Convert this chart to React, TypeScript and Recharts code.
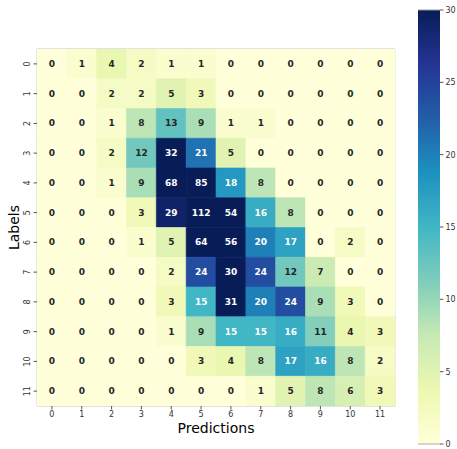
import React from "react";
import { BarChart, Bar, XAxis, YAxis, Cell, LabelList, ReferenceArea, ReferenceLine } from "recharts";

// confusion matrix, rows = true labels, columns = predictions
const predLabels = ["0", "1", "2", "3", "4", "5", "6", "7", "8", "9", "10", "11"];
const trueLabels = ["0", "1", "2", "3", "4", "5", "6", "7", "8", "9", "10", "11"];

const row0 = [0, 1, 4, 2, 1, 1, 0, 0, 0, 0, 0, 0];
const row1 = [0, 0, 2, 2, 5, 3, 0, 0, 0, 0, 0, 0];
const row2 = [0, 0, 1, 8, 13, 9, 1, 1, 0, 0, 0, 0];
const row3 = [0, 0, 2, 12, 32, 21, 5, 0, 0, 0, 0, 0];
const row4 = [0, 0, 1, 9, 68, 85, 18, 8, 0, 0, 0, 0];
const row5 = [0, 0, 0, 3, 29, 112, 54, 16, 8, 0, 0, 0];
const row6 = [0, 0, 0, 1, 5, 64, 56, 20, 17, 0, 2, 0];
const row7 = [0, 0, 0, 0, 2, 24, 30, 24, 12, 7, 0, 0];
const row8 = [0, 0, 0, 0, 3, 15, 31, 20, 24, 9, 3, 0];
const row9 = [0, 0, 0, 0, 1, 9, 15, 15, 16, 11, 4, 3];
const row10 = [0, 0, 0, 0, 0, 3, 4, 8, 17, 16, 8, 2];
const row11 = [0, 0, 0, 0, 0, 0, 0, 1, 5, 8, 6, 3];
const matrix = [row0, row1, row2, row3, row4, row5, row6, row7, row8, row9, row10, row11];

const colorbarTicks = [0, 5, 10, 15, 20, 25, 30];
const VMAX = 30;

// matplotlib YlGnBu
const YLGNBU = ["#ffffd9", "#edf8b1", "#c7e9b4", "#7fcdbb", "#41b6c4", "#1d91c0", "#225ea8", "#253494", "#081d58"];

const hexToRgb = (h: string) => [1, 3, 5].map((i) => parseInt(h.slice(i, i + 2), 16));

const cmapRgb = (v: number) => {
  const t = Math.max(0, Math.min(1, v / VMAX)) * (YLGNBU.length - 1);
  const i = Math.min(Math.floor(t), YLGNBU.length - 2);
  const f = t - i;
  const a = hexToRgb(YLGNBU[i]);
  const b = hexToRgb(YLGNBU[i + 1]);
  return a.map((c, k) => Math.round(c + (b[k] - c) * f));
};

const cmap = (v: number) => {
  const [r, g, b] = cmapRgb(v);
  return `rgb(${r},${g},${b})`;
};

// seaborn picks annotation colour from the cell luminance
const textColor = (v: number) => {
  const lin = cmapRgb(v).map((c) => {
    const s = c / 255;
    return s <= 0.03928 ? s / 12.92 : Math.pow((s + 0.055) / 1.055, 2.4);
  });
  const lum = 0.2126 * lin[0] + 0.7152 * lin[1] + 0.0722 * lin[2];
  return lum > 0.408 ? "#262626" : "#ffffff";
};

const data = predLabels.map((p, i) => {
  const o: Record<string, any> = { pred: p };
  matrix.forEach((row, j) => {
    o[`c${j}`] = row[i];
    o[`h${j}`] = 1;
  });
  return o;
});

const yTicks = trueLabels.map((_, j) => j + 0.5);

const CellLabel = (props: any) => {
  const { x, y, width, height, value } = props;
  return (
    <text
      x={x + width / 2}
      y={y + height / 2}
      textAnchor="middle"
      dominantBaseline="central"
      fontSize={9}
      fontWeight="bold"
      fill={textColor(value)}
    >
      {value}
    </text>
  );
};

const YTick = (props: any) => {
  const { x, y, payload } = props;
  return (
    <text
      x={x}
      y={y}
      transform={`rotate(-90 ${x} ${y})`}
      textAnchor="middle"
      dominantBaseline="central"
      fontSize={8}
      fill="#333"
    >
      {trueLabels[Math.floor(payload.value)]}
    </text>
  );
};

const XTitle = (props: any) => {
  const vb = props.viewBox || { x: 37, y: 406, width: 358 };
  return (
    <text x={vb.x + vb.width / 2} y={vb.y + 27} textAnchor="middle" fontSize={14} fill="#000">
      Predictions
    </text>
  );
};

const YTitle = (props: any) => {
  const vb = props.viewBox || { x: 0, y: 49, height: 357 };
  const cx = vb.x + 14;
  const cy = vb.y + vb.height / 2;
  return (
    <text
      x={cx}
      y={cy}
      transform={`rotate(-90 ${cx} ${cy})`}
      textAnchor="middle"
      dominantBaseline="central"
      fontSize={14}
      fill="#000"
    >
      Labels
    </text>
  );
};

export default function App() {
  return (
    <div
      style={{
        position: "absolute",
        left: 0,
        top: 0,
        width: 457,
        height: 449,
        background: "#fff",
        fontFamily: "DejaVu Sans",
      }}
    >
      <BarChart
        width={457}
        height={449}
        data={data}
        margin={{ top: 49, right: 62, bottom: 0, left: 0 }}
        barCategoryGap={0}
        barGap={0}
      >
        <XAxis
          dataKey="pred"
          type="category"
          height={43}
          interval={0}
          axisLine={false}
          tickSize={3.5}
          tickMargin={2}
          tick={{ fontSize: 8, fill: "#333" }}
          tickLine={{ stroke: "#555" }}
          label={{ content: XTitle }}
        />
        <YAxis
          type="number"
          domain={[0, 12]}
          reversed
          allowDataOverflow
          width={37}
          ticks={yTicks}
          interval={0}
          axisLine={false}
          tickSize={3.5}
          tickMargin={6}
          tick={<YTick />}
          tickLine={{ stroke: "#555" }}
          label={{ content: YTitle }}
        />
        {matrix.map((row, j) => (
          <Bar key={j} dataKey={`h${j}`} stackId="cm" isAnimationActive={false}>
            {row.map((v, i) => (
              <Cell key={i} fill={cmap(v)} stroke={cmap(v)} strokeWidth={0.6} />
            ))}
            <LabelList dataKey={`c${j}`} content={CellLabel} />
          </Bar>
        ))}
        <ReferenceArea y1={0} y2={12} fill="none" stroke="#c5c5c5" strokeWidth={1} ifOverflow="visible" />
      </BarChart>

      <div style={{ position: "absolute", left: 418, top: 5 }}>
        <BarChart
          width={39}
          height={444}
          data={[{ name: "cbar", v: VMAX }]}
          margin={{ top: 5, right: 0, bottom: 5, left: 0 }}
          barCategoryGap={0}
        >
          <defs>
            <linearGradient id="cbar" x1="0" y1="1" x2="0" y2="0">
              {YLGNBU.map((c, k) => (
                <stop key={k} offset={k / (YLGNBU.length - 1)} stopColor={c} />
              ))}
            </linearGradient>
          </defs>
          <XAxis dataKey="name" hide />
          <YAxis
            orientation="right"
            domain={[0, VMAX]}
            ticks={colorbarTicks}
            width={17}
            axisLine={false}
            tickSize={3.5}
            tickMargin={2}
            tick={{ fontSize: 8, fill: "#333" }}
            tickLine={{ stroke: "#555" }}
          />
          <Bar dataKey="v" fill="url(#cbar)" isAnimationActive={false} />
          <ReferenceLine y={0} stroke="#aaa" strokeWidth={1} />
          <ReferenceLine y={VMAX} stroke="#999" strokeWidth={1} />
        </BarChart>
      </div>
    </div>
  );
}
